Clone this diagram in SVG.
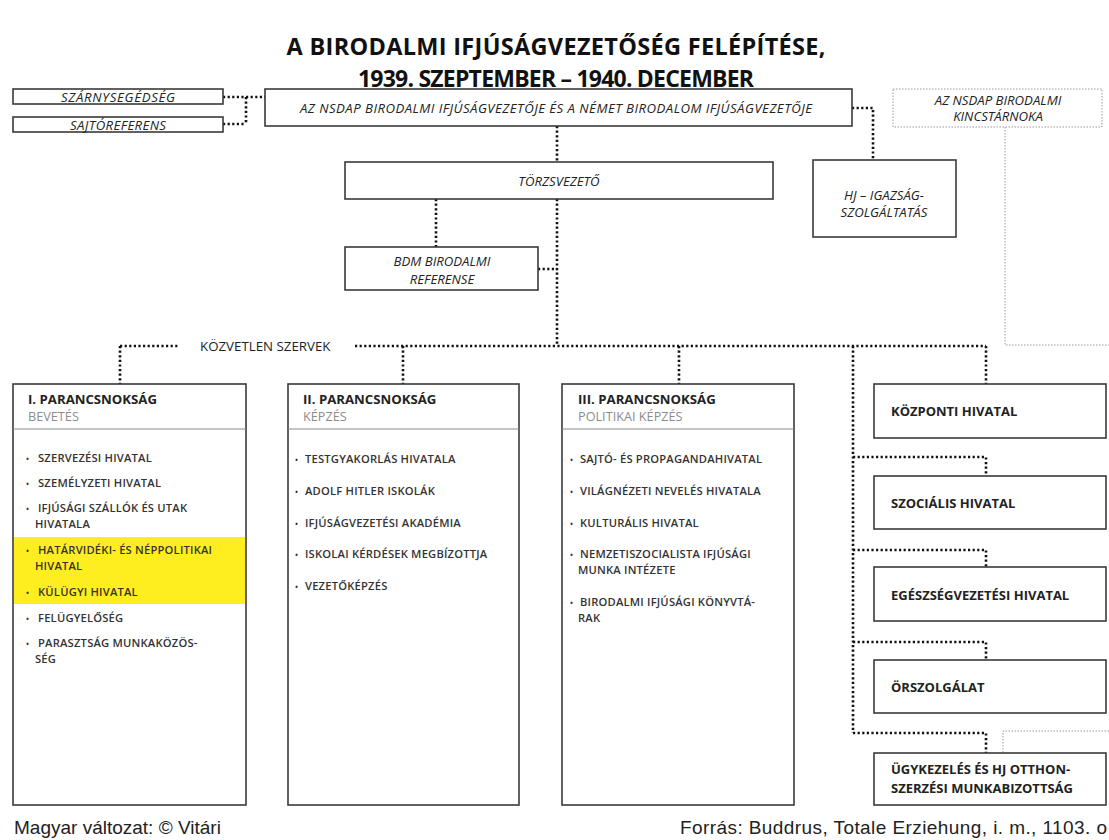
<svg xmlns="http://www.w3.org/2000/svg" width="1109" height="840" viewBox="0 0 1109 840">
  <defs>
    <style>
      .box{fill:#fff;stroke:#3a3a3a;stroke-width:1.6}
      .ghost{fill:none;stroke:#9a9a9a;stroke-width:1;stroke-dasharray:1.5 1.5}
      .dot{fill:none;stroke:#111;stroke-width:2.6;stroke-dasharray:2.2 2.4}
      .sep{stroke:#8a8a8a;stroke-width:1.2}
      .ff{font-family:"Open Sans","Noto Sans","DejaVu Sans",sans-serif}
      .it{font-style:italic;font-size:13.2px;fill:#222;text-anchor:middle}
      .hd{font-weight:700;font-size:13.2px;fill:#222}
      .sub{font-size:12.7px;fill:#8c8c8c}
      .li{font-weight:600;font-size:11.2px;fill:#333;letter-spacing:0.2px}
      .bul{font-size:8px}
      .rb{font-weight:700;font-size:13px;fill:#222}
      .title{font-weight:700;fill:#111;text-anchor:middle}
      .lab{font-size:13.3px;fill:#222}
      .foot{font-family:"Liberation Sans",Arial,sans-serif;font-size:19px;fill:#222}
    </style>
  </defs>

  <rect width="1109" height="840" fill="#fff"/>

  <!-- heading, two lines -->
  <g id="title" class="ff">
    <text class="title" x="556" y="55" font-size="23.5" textLength="539">A BIRODALMI IFJÚSÁGVEZETŐSÉG FELÉPÍTÉSE,</text>
    <text class="title" x="556" y="86.5" font-size="23" textLength="396">1939. SZEPTEMBER – 1940. DECEMBER</text>
  </g>

  <!-- dotted connectors -->
  <g id="connectors">
    <!-- staff aides to the leader -->
    <path class="dot" d="M223 97 H265 M246 97 V124 M223 124 H246"/>
    <!-- leader to judiciary -->
    <path class="dot" d="M852 108 H873 V160"/>
    <!-- leader to chief of staff -->
    <path class="dot" d="M557 126 V162"/>
    <!-- chief of staff to BDM and down to the direct bodies -->
    <path class="dot" d="M436 199 V247"/>
    <path class="dot" d="M557 199 V346"/>
    <path class="dot" d="M538 269 H557"/>
    <!-- direct bodies rail -->
    <path class="dot" d="M120 346 H178 M355 346 H986"/>
    <path class="dot" d="M120 346 V384 M403 346 V384 M679 346 V384 M986 346 V384"/>
    <!-- office column on the right -->
    <path class="dot" d="M853 346 V733"/>
    <path class="dot" d="M853 457 H986 V476"/>
    <path class="dot" d="M853 550 H986 V567"/>
    <path class="dot" d="M853 642 H986 V660"/>
    <path class="dot" d="M853 733 H986 V753"/>
    <!-- treasurer links -->
    <path class="ghost" d="M1005 127 V345 H1109"/>
    <path class="ghost" d="M1109 731 H1003 V753"/>
  </g>

  <!-- top level -->
  <g id="szarnysegedseg" class="ff">
    <rect class="box" x="13" y="89" width="210" height="15"/>
    <text class="it" x="118" y="101.5" textLength="114">SZÁRNYSEGÉDSÉG</text>
  </g>
  <g id="sajtoreferens" class="ff">
    <rect class="box" x="13" y="117" width="210" height="15"/>
    <text class="it" x="118" y="129.5" textLength="96">SAJTÓREFERENS</text>
  </g>
  <g id="ifjusagvezeto" class="ff">
    <rect class="box" x="265" y="89" width="587" height="37"/>
    <text class="it" x="556" y="113" textLength="512">AZ NSDAP BIRODALMI IFJÚSÁGVEZETŐJE ÉS A NÉMET BIRODALOM IFJÚSÁGVEZETŐJE</text>
  </g>
  <g id="kincstarnok" class="ff">
    <rect class="ghost" x="893" y="89" width="209" height="38"/>
    <text class="it" x="998" y="105">AZ NSDAP BIRODALMI</text>
    <text class="it" x="998" y="121">KINCSTÁRNOKA</text>
  </g>
  <g id="torzsvezeto" class="ff">
    <rect class="box" x="345" y="162" width="428" height="37"/>
    <text class="it" x="559" y="185.5">TÖRZSVEZETŐ</text>
  </g>
  <g id="igazsagszolgaltatas" class="ff">
    <rect class="box" x="813" y="160" width="143" height="77"/>
    <text class="it" x="884" y="200">HJ – IGAZSÁG-</text>
    <text class="it" x="884" y="217">SZOLGÁLTATÁS</text>
  </g>
  <g id="bdm" class="ff">
    <rect class="box" x="345" y="247" width="193" height="43"/>
    <text class="it" x="442" y="266">BDM BIRODALMI</text>
    <text class="it" x="442" y="284">REFERENSE</text>
  </g>

  <g id="kozvetlen-szervek" class="ff">
    <text class="lab" x="200" y="351">KÖZVETLEN SZERVEK</text>
  </g>

  <!-- command I -->
  <g id="parancsnoksag-1" class="ff">
    <rect class="box" x="13" y="384" width="233" height="421"/>
    <rect x="14" y="537" width="231" height="67" fill="#ffee1f"/>
    <line class="sep" x1="13" y1="429" x2="246" y2="429"/>
    <text class="hd" x="28" y="404">I. PARANCSNOKSÁG</text>
    <text class="sub" x="28" y="421">BEVETÉS</text>
    <text class="li" x="26" y="462"><tspan class="bul">•</tspan><tspan x="38">SZERVEZÉSI HIVATAL</tspan></text>
    <text class="li" x="26" y="487"><tspan class="bul">•</tspan><tspan x="38">SZEMÉLYZETI HIVATAL</tspan></text>
    <text class="li" x="26" y="512"><tspan class="bul">•</tspan><tspan x="38">IFJÚSÁGI SZÁLLÓK ÉS UTAK</tspan></text>
    <text class="li" x="35" y="528">HIVATALA</text>
    <text class="li" x="26" y="554"><tspan class="bul">•</tspan><tspan x="38">HATÁRVIDÉKI- ÉS NÉPPOLITIKAI</tspan></text>
    <text class="li" x="35" y="570">HIVATAL</text>
    <text class="li" x="26" y="596"><tspan class="bul">•</tspan><tspan x="38">KÜLÜGYI HIVATAL</tspan></text>
    <text class="li" x="26" y="622"><tspan class="bul">•</tspan><tspan x="38">FELÜGYELŐSÉG</tspan></text>
    <text class="li" x="26" y="647"><tspan class="bul">•</tspan><tspan x="38">PARASZTSÁG MUNKAKÖZÖS-</tspan></text>
    <text class="li" x="35" y="663">SÉG</text>
  </g>

  <!-- command II -->
  <g id="parancsnoksag-2" class="ff">
    <rect class="box" x="288" y="384" width="231" height="421"/>
    <line class="sep" x1="288" y1="429" x2="519" y2="429"/>
    <text class="hd" x="303" y="404">II. PARANCSNOKSÁG</text>
    <text class="sub" x="303" y="421">KÉPZÉS</text>
    <text class="li" x="295" y="463"><tspan class="bul">•</tspan><tspan x="305">TESTGYAKORLÁS HIVATALA</tspan></text>
    <text class="li" x="295" y="495"><tspan class="bul">•</tspan><tspan x="305">ADOLF HITLER ISKOLÁK</tspan></text>
    <text class="li" x="295" y="527"><tspan class="bul">•</tspan><tspan x="305">IFJÚSÁGVEZETÉSI AKADÉMIA</tspan></text>
    <text class="li" x="295" y="558"><tspan class="bul">•</tspan><tspan x="305">ISKOLAI KÉRDÉSEK MEGBÍZOTTJA</tspan></text>
    <text class="li" x="295" y="590"><tspan class="bul">•</tspan><tspan x="305">VEZETŐKÉPZÉS</tspan></text>
  </g>

  <!-- command III -->
  <g id="parancsnoksag-3" class="ff">
    <rect class="box" x="562" y="384" width="232" height="421"/>
    <line class="sep" x1="562" y1="429" x2="794" y2="429"/>
    <text class="hd" x="578" y="404">III. PARANCSNOKSÁG</text>
    <text class="sub" x="578" y="421">POLITIKAI KÉPZÉS</text>
    <text class="li" x="570" y="463"><tspan class="bul">•</tspan><tspan x="580">SAJTÓ- ÉS PROPAGANDAHIVATAL</tspan></text>
    <text class="li" x="570" y="495"><tspan class="bul">•</tspan><tspan x="580">VILÁGNÉZETI NEVELÉS HIVATALA</tspan></text>
    <text class="li" x="570" y="527"><tspan class="bul">•</tspan><tspan x="580">KULTURÁLIS HIVATAL</tspan></text>
    <text class="li" x="570" y="558"><tspan class="bul">•</tspan><tspan x="580">NEMZETISZOCIALISTA IFJÚSÁGI</tspan></text>
    <text class="li" x="578" y="574">MUNKA INTÉZETE</text>
    <text class="li" x="570" y="606"><tspan class="bul">•</tspan><tspan x="580">BIRODALMI IFJÚSÁGI KÖNYVTÁ-</tspan></text>
    <text class="li" x="578" y="622">RAK</text>
  </g>

  <!-- offices -->
  <g id="kozponti-hivatal" class="ff">
    <rect class="box" x="874" y="384" width="232" height="54"/>
    <text class="rb" x="891" y="416">KÖZPONTI HIVATAL</text>
  </g>
  <g id="szocialis-hivatal" class="ff">
    <rect class="box" x="874" y="476" width="232" height="53"/>
    <text class="rb" x="891" y="508">SZOCIÁLIS HIVATAL</text>
  </g>
  <g id="egeszsegvezetesi-hivatal" class="ff">
    <rect class="box" x="874" y="567" width="232" height="54"/>
    <text class="rb" x="891" y="600">EGÉSZSÉGVEZETÉSI HIVATAL</text>
  </g>
  <g id="orszolgalat" class="ff">
    <rect class="box" x="874" y="660" width="232" height="53"/>
    <text class="rb" x="891" y="692">ÖRSZOLGÁLAT</text>
  </g>
  <g id="ugykezeles" class="ff">
    <rect class="box" x="874" y="753" width="232" height="52"/>
    <text class="rb" x="891" y="774">ÜGYKEZELÉS ÉS HJ OTTHON-</text>
    <text class="rb" x="891" y="793">SZERZÉSI MUNKABIZOTTSÁG</text>
  </g>

  <!-- credits -->
  <g id="footer">
    <text class="foot" x="14" y="834">Magyar változat: © Vitári</text>
    <text class="foot" x="680" y="834" textLength="427">Forrás: Buddrus, Totale Erziehung, i. m., 1103. o</text>
  </g>
</svg>
